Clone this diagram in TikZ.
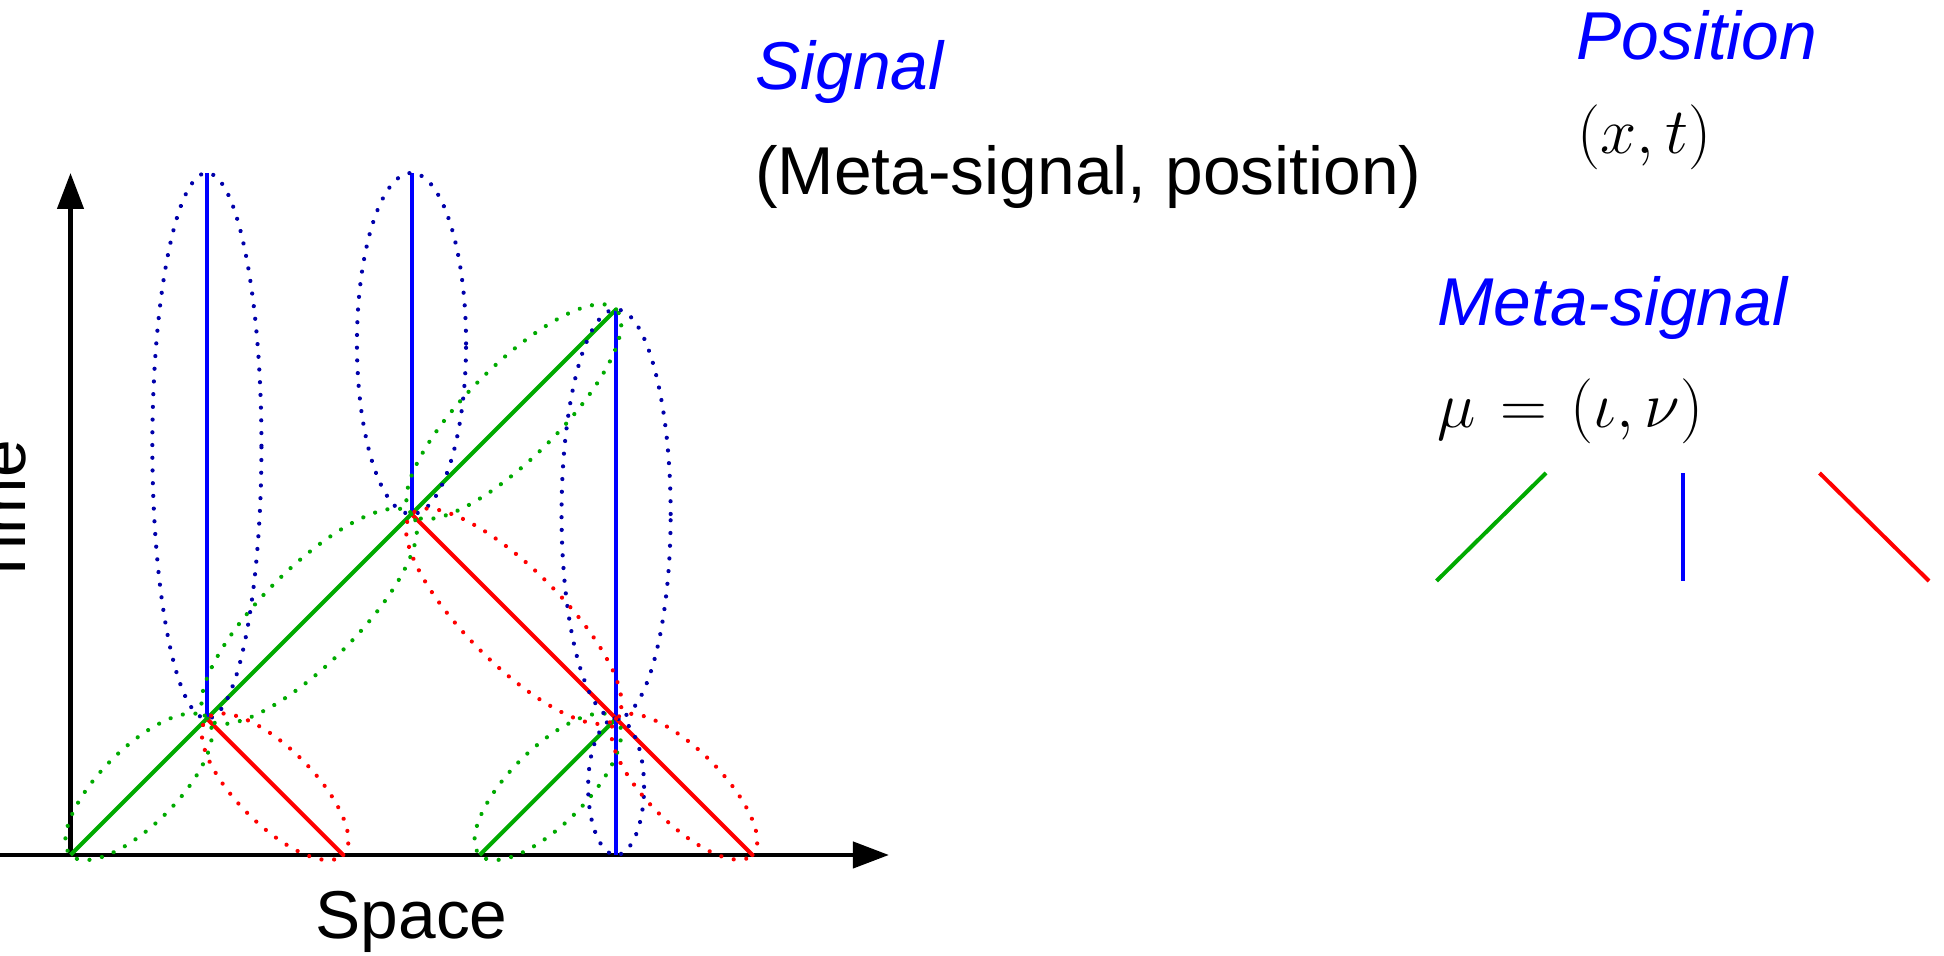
\documentclass[tikz,border=0pt]{standalone}
\usepackage[no-math]{fontspec}
\setmainfont{Liberation Sans}
\usetikzlibrary{arrows.meta}
\definecolor{sgreen}{RGB}{0,170,0}
\definecolor{sblue}{RGB}{0,0,255}
\definecolor{sred}{RGB}{255,0,0}
\definecolor{dblue}{RGB}{0,0,170}
\begin{document}
\begin{tikzpicture}[x=0.5pt,y=0.5pt,
  txt/.style={inner sep=0pt, font=\fontsize{33.85pt}{40pt}\selectfont},
  mth/.style={inner sep=0pt, scale=1.306, font=\fontsize{24.88pt}{30pt}\selectfont},
  ttl/.style={inner sep=0pt, text=sblue, font=\fontsize{33.85pt}{40pt}\selectfont\itshape},
  axisline/.style={line width=2.2pt, -{Triangle[length=18pt,width=13pt]}},
  sig/.style={line width=2pt},
  halo/.style={line width=2.1pt, line cap=round, dash pattern=on 0.01pt off 6.35pt}]
\useasboundingbox (0,0) rectangle (1944,956);
\clip (0,0) rectangle (1944,956);

\begin{scope}[shift={(70.5,101)}, x=34.1pt, y=34.1pt]
  % collision points and ends
  \coordinate (O) at (0,0);
  \coordinate (A) at (2,2);
  \coordinate (B) at (5,5);
  \coordinate (C) at (8,8);
  \coordinate (D) at (8,2);
  \coordinate (E) at (4,0);
  \coordinate (F) at (10,0);
  \coordinate (G) at (6,0);
  \coordinate (H) at (2,10);
  \coordinate (I) at (5,10);
  \coordinate (J) at (8,0);
  \coordinate (Yt) at (0,10);
  \coordinate (Xt) at (12,0);
  \coordinate (Xs) at (-2,0);

  % axes
  \draw[axisline] (Xs) -- (Xt);
  \draw[axisline] (O) -- (Yt);

  % signals
  \draw[sig, sgreen] (O) -- (A) -- (B) -- (C);
  \draw[sig, sgreen] (G) -- (D);
  \draw[sig, sblue] (A) -- (H);
  \draw[sig, sblue] (B) -- (I);
  \draw[sig, sblue] (C) -- (J);
  \draw[sig, sred] (A) -- (E);
  \draw[sig, sred] (B) -- (F);

  % dotted halos
  \draw[halo, sgreen, rotate around={45:(1,1)}] (1,1) ellipse [x radius=1.414, y radius=0.56];
  \draw[halo, sgreen, rotate around={45:(3.5,3.5)}] (3.5,3.5) ellipse [x radius=2.121, y radius=0.70];
  \draw[halo, sgreen, rotate around={45:(6.5,6.5)}] (6.5,6.5) ellipse [x radius=2.121, y radius=0.68];
  \draw[halo, sgreen, rotate around={45:(7,1)}] (7,1) ellipse [x radius=1.414, y radius=0.56];

  \draw[halo, dblue] (2,6) ellipse [x radius=0.8, y radius=4];
  \draw[halo, dblue] (5,7.5) ellipse [x radius=0.8, y radius=2.5];
  \draw[halo, dblue] (8,5) ellipse [x radius=0.8, y radius=3];
  \draw[halo, dblue] (8,1) ellipse [x radius=0.41, y radius=1];

  \draw[halo, sred, rotate around={-45:(3,1)}] (3,1) ellipse [x radius=1.414, y radius=0.56];
  \draw[halo, sred, rotate around={-45:(6.5,3.5)}] (6.5,3.5) ellipse [x radius=2.121, y radius=0.70];
  \draw[halo, sred, rotate around={-45:(9,1)}] (9,1) ellipse [x radius=1.414, y radius=0.54];
\end{scope}

% axis labels
\node[txt, anchor=base] (space) at (411.6,17.6) {Space};
\node[txt, rotate=90, anchor=base] (time) at (26,442) {Time};

% right-hand texts
\node[ttl, anchor=base west] (signal) at (755,866.7) {Signal};
\node[txt, anchor=base west] (pair) at (755,761) {(Meta-signal, position)};
\node[ttl, anchor=base west] (position) at (1576,896.7) {Position};
\node[mth, anchor=base west] (xt) at (1577,802) {$(x,t)$};
\node[ttl, anchor=base west] (meta) at (1437,630.7) {Meta-signal};
\node[mth, anchor=base west] (mu) at (1437,528.4) {$\mu\mkern1.7mu=\mkern1.7mu(\iota,\nu)$};

% legend of meta-signals
\coordinate (lg1) at (1436.5,375);
\coordinate (lg2) at (1546,483);
\coordinate (lb1) at (1682.5,375);
\coordinate (lb2) at (1682.5,483);
\coordinate (lr1) at (1819.5,483);
\coordinate (lr2) at (1929,375);
\draw[sig, sgreen] (lg1) -- (lg2);
\draw[sig, sblue] (lb1) -- (lb2);
\draw[sig, sred] (lr1) -- (lr2);
\end{tikzpicture}
\end{document}
